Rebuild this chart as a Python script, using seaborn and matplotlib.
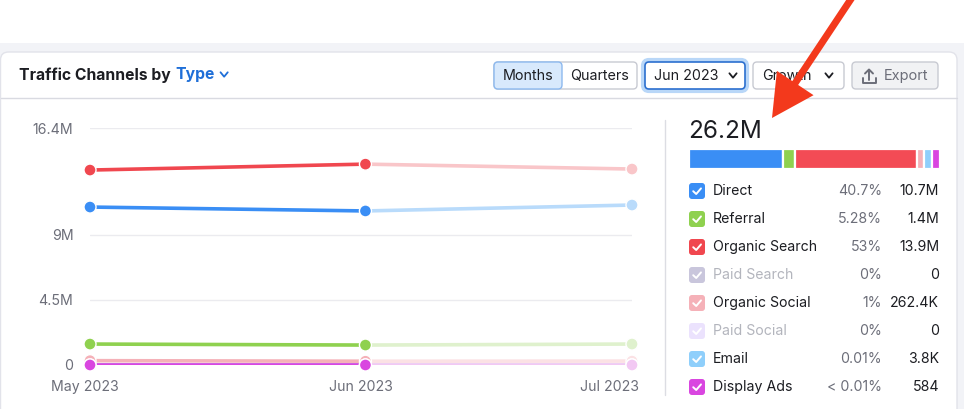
import numpy as np
import pandas as pd
import matplotlib
matplotlib.use("Agg")
import matplotlib.pyplot as plt
import seaborn as sns
from matplotlib.patches import FancyBboxPatch, Rectangle, FancyArrow
import matplotlib.transforms as mtransforms

# ---------------- data ----------------
months = ["2023-05-01", "2023-06-01", "2023-07-01"]
month_labels = ["May 2023", "Jun 2023", "Jul 2023"]
direct = [10.93e6, 10.66e6, 11.07e6]
referral = [1.45e6, 1.38e6, 1.45e6]
organic_search = [13.49e6, 13.90e6, 13.56e6]
organic_social = [0.30e6, 0.2624e6, 0.27e6]
email = [4.1e3, 3.8e3, 4.0e3]
display_ads = [620, 584, 600]
y_ticks = [0, 4.5e6, 9e6, 16.4e6]
y_tick_labels = ["0", "4.5M", "9M", "16.4M"]

legend_names = ["Direct", "Referral", "Organic Search", "Paid Search",
                "Organic Social", "Paid Social", "Email", "Display Ads"]
legend_pcts = ["40.7%", "5.28%", "53%", "0%", "1%", "0%", "0.01%", "< 0.01%"]
legend_vals = ["10.7M", "1.4M", "13.9M", "0", "262.4K", "0", "3.8K", "584"]
legend_active = [True, True, True, False, True, False, True, True]
june_values = [10.7e6, 1.4e6, 13.9e6, 0, 262.4e3, 0, 3.8e3, 584]
total_label = "26.2M"

# ---------------- styles ----------------
solid_col = {"Direct": "#3a8ef5", "Referral": "#8fd14f", "Organic Search": "#f0474f",
             "Paid Search": "#c9c6dc", "Organic Social": "#f5b1b8", "Paid Social": "#ebe2fd",
             "Email": "#8fcffb", "Display Ads": "#d946e0"}
faded_col = {"Direct": "#b9dbfb", "Referral": "#dff1cd", "Organic Search": "#f9c6c9",
             "Organic Social": "#fbe1e4", "Email": "#d6edfd", "Display Ads": "#f2c8f3"}

sns.set_theme(style="white")
plt.rcParams["font.family"] = ["Inter", "DejaVu Sans"]

fig = plt.figure(figsize=(9.64, 4.09), dpi=100)
fig.patch.set_facecolor("white")

# overlay axes in pixel coordinates (y downward)
ov = fig.add_axes([0, 0, 1, 1], zorder=0)
ov.set_xlim(0, 964)
ov.set_ylim(409, 0)
ov.axis("off")

# page background and card
ov.add_patch(Rectangle((0, 43), 964, 400, facecolor="#f2f3f7", edgecolor="none"))
ov.add_patch(FancyBboxPatch((0.5, 52), 956.5, 380, boxstyle="round,pad=0,rounding_size=8",
                            facecolor="white", edgecolor="#e2e3ea", linewidth=1))
ov.plot([0.5, 957], [98, 98], color="#d9dae1", lw=1)
ov.plot([665, 665], [120, 395], color="#dcdde3", lw=1)

TXT = "#1c1d22"
GREY = "#6c6e79"


def chevron(cx, cy, color, w=3.6, h=2.2, lw=1.3):
    ov.plot([cx - w, cx, cx + w], [cy - h, cy + h, cy - h], color=color, lw=lw,
            solid_capstyle="round", solid_joinstyle="round")


def box(x0, y0, x1, y1, face, edge, lw=1, r=4, z=1):
    ov.add_patch(FancyBboxPatch((x0, y0), x1 - x0, y1 - y0,
                                boxstyle=f"round,pad=0,rounding_size={r}",
                                facecolor=face, edgecolor=edge, linewidth=lw, zorder=z))


# title
fig.canvas.draw()
renderer = fig.canvas.get_renderer()
t1 = ov.text(19, 75, "Traffic Channels by", fontsize=11.3, fontweight="bold",
             color=TXT, va="center", ha="left")
bb = t1.get_window_extent(renderer)
t2 = ov.text(bb.x1 + 5, 75, "Type", fontsize=11.3, fontweight="bold",
             color="#1f6fd8", va="center", ha="left")
bb2 = t2.get_window_extent(renderer)
chevron(bb2.x1 + 9, 74.5, "#1f6fd8")

# segmented control Months / Quarters
box(494, 62, 637, 89, "white", "#c8cad2")
ov.add_patch(FancyBboxPatch((494, 62), 68, 27, boxstyle="round,pad=0,rounding_size=4",
                            facecolor="#d8e9fc", edgecolor="#8db9ef", linewidth=1, zorder=2))
ov.text(528, 76, "Months", fontsize=10.3, color=TXT, va="center", ha="center", zorder=3)
ov.text(599.5, 76, "Quarters", fontsize=10.3, color=TXT, va="center", ha="center", zorder=3)

# Jun 2023 dropdown (focused)
box(643, 60, 747, 91, "none", "#b9d7f8", lw=3, r=6)
box(645, 62, 745, 89, "white", "#2b6fcf", lw=1.2)
ov.text(654, 76, "Jun 2023", fontsize=10.3, color=TXT, va="center", ha="left", zorder=3)
chevron(733, 75.5, TXT)

# Growth dropdown
box(753, 62, 844, 89, "white", "#c8cad2")
ov.text(762, 76, "Growth", fontsize=10.3, color=TXT, va="center", ha="left", zorder=3)
chevron(829, 75.5, TXT)

# Export button
box(852, 62, 938, 89, "#f1f2f4", "#c8cad2")
ov.plot([869, 869], [69.5, 80], color=GREY, lw=1.4, zorder=3)
ov.plot([865, 869, 873], [73.5, 69.5, 73.5], color=GREY, lw=1.4, zorder=3)
ov.plot([862.5, 862.5, 875.5, 875.5], [78, 83, 83, 78], color=GREY, lw=1.4, zorder=3)
ov.text(884, 76, "Export", fontsize=10.5, color=GREY, va="center", ha="left", zorder=3)

# ---------------- right panel ----------------
ov.text(688, 131, total_label, fontsize=17.5, color=TXT, va="center", ha="left")

bar_names = [n for n, v in zip(legend_names, june_values) if v > 0]
bar_vals = np.array([v for v in june_values if v > 0], dtype=float)
share = np.maximum(bar_vals / bar_vals.sum(), 0.034)
share = share / share.sum()
widths = share * 251
lefts = 689 + np.concatenate([[0], np.cumsum(widths)[:-1]])
ov.barh([158.5] * len(widths), widths, left=lefts, height=20,
        color=[solid_col[n] if n != "Organic Search" else "#f34b55" for n in bar_names],
        edgecolor="white", linewidth=1.6)

for i, (name, pct, val, act) in enumerate(zip(legend_names, legend_pcts, legend_vals, legend_active)):
    cy = 191 + 28 * i
    ov.add_patch(FancyBboxPatch((689, cy - 8), 16, 16, boxstyle="round,pad=0,rounding_size=3",
                                facecolor=solid_col[name], edgecolor="none", zorder=2))
    ov.plot([693.2, 696.2, 701], [cy + 0.2, cy + 3, cy - 2.6], color="white", lw=1.4,
            solid_capstyle="round", solid_joinstyle="round", zorder=3)
    ov.text(713, cy, name, fontsize=10.2, color=TXT if act else "#b3b5bd",
            va="center", ha="left")
    ov.text(882, cy, pct, fontsize=10.2, color=GREY, va="center", ha="right")
    ov.text(939, cy, val, fontsize=10.2, color=TXT, va="center", ha="right")

# red annotation arrow
ov.add_patch(FancyArrow(853, -4, -81, 122, width=7, head_width=44, head_length=42,
                        length_includes_head=True, facecolor="#f3391c", edgecolor="none",
                        zorder=20))

# ---------------- line chart ----------------
ax = fig.add_axes([90 / 964, (409 - 365) / 409, (632 - 90) / 964, (365 - 128) / 409], zorder=1)
ax.set_facecolor("none")

series = {"Organic Search": organic_search, "Direct": direct, "Referral": referral,
          "Organic Social": organic_social, "Email": email, "Display Ads": display_ads}
dates = pd.to_datetime(months)
rows = []
for name, vals in series.items():
    for d, v in zip(dates, vals):
        rows.append({"month": d, "channel": name, "value": v})
df = pd.DataFrame(rows)
order = list(series.keys())

past = df[df["month"] <= dates[1]]
future = df[df["month"] >= dates[1]]

sns.lineplot(data=future, x="month", y="value", hue="channel", hue_order=order,
             palette=faded_col, linewidth=2.6, legend=False, ax=ax)
sns.lineplot(data=past, x="month", y="value", hue="channel", hue_order=order,
             palette=solid_col, linewidth=2.6, legend=False, ax=ax)
sns.scatterplot(data=df[df["month"] == dates[2]], x="month", y="value", hue="channel",
                hue_order=order, palette=faded_col, s=75, edgecolor="white", linewidth=1.0,
                legend=False, ax=ax, zorder=4, clip_on=False)
sns.scatterplot(data=past, x="month", y="value", hue="channel", hue_order=order,
                palette=solid_col, s=75, edgecolor="white", linewidth=1.0,
                legend=False, ax=ax, zorder=5, clip_on=False)
for coll in ax.collections:
    coll.set_clip_on(False)
for ln in ax.lines:
    ln.set_solid_capstyle("butt")

ax.set_xlim(dates[0], dates[2])
ax.set_ylim(0, 16.4e6)
ax.set_yticks(y_ticks)
ax.set_yticklabels(y_tick_labels)
ax.set_xticks(dates)
ax.set_xticklabels(month_labels)
ax.set_xlabel("")
ax.set_ylabel("")
ax.grid(axis="y", color="#ebebef", linewidth=1)
ax.grid(axis="x", visible=False)
ax.set_axisbelow(True)
for s in ax.spines.values():
    s.set_visible(False)
ax.tick_params(axis="y", length=0, pad=12, labelsize=10.2, labelcolor=GREY)
ax.tick_params(axis="x", length=0, pad=11, labelsize=10.2, labelcolor=GREY)
xl = ax.get_xticklabels()
xl[0].set_transform(xl[0].get_transform() + mtransforms.ScaledTranslation(-5 / 100, 0, fig.dpi_scale_trans))
xl[1].set_transform(xl[1].get_transform() + mtransforms.ScaledTranslation(-5 / 100, 0, fig.dpi_scale_trans))
xl[2].set_transform(xl[2].get_transform() + mtransforms.ScaledTranslation(-22 / 100, 0, fig.dpi_scale_trans))

fig.savefig("out.png", dpi=100, facecolor="white")
